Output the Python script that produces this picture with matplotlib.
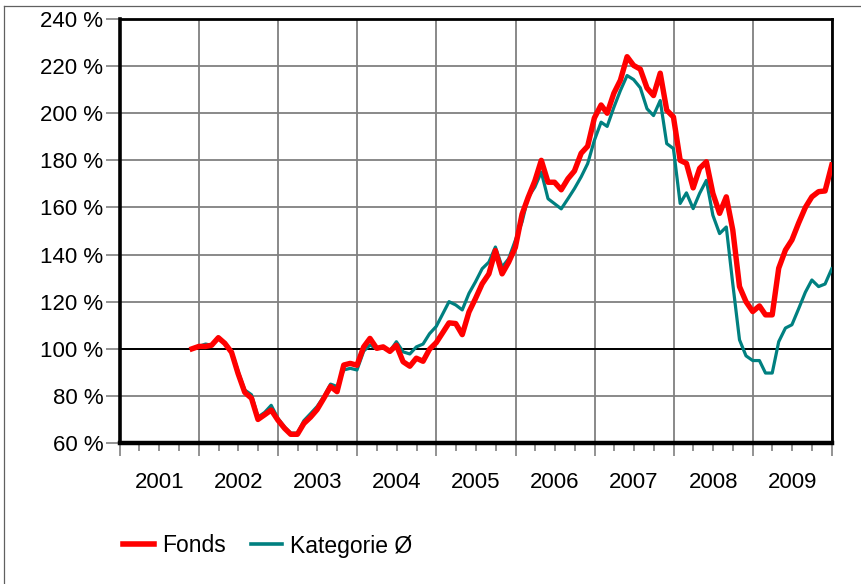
import matplotlib
matplotlib.use('Agg')
import matplotlib.pyplot as plt
import matplotlib.dates as mdates
import matplotlib.transforms as mtransforms
from matplotlib.lines import Line2D
import pandas as pd

plt.rcParams['font.family'] = ['Liberation Sans', 'DejaVu Sans']

# ---- data (monthly values, % of start) ----
start_month = '2001-11-30'

fonds = [
    100, 101, 101, 101.5, 104.7, 102.3, 98.5, 89.5, 81.5, 79,
    70, 72, 74, 69.7, 66.2, 63.7, 63.7, 68.3, 71, 74.2,
    79, 84, 81.8, 93.1, 93.8, 93, 100.8, 104.4, 100.2, 100.8,
    98.9, 101.5, 94.5, 92.6, 96, 94.7, 99.8, 102.6, 107, 111,
    110.7, 106, 115.6, 121.3, 127.6, 131.8, 141.7, 131.8, 136.7, 143,
    157.1, 164.2, 171.2, 180, 170.7, 170.7, 167.5, 172.2, 175.5, 183,
    186, 198, 203.5, 200, 208.5, 214, 224, 220.3, 218.7, 210.7,
    207.5, 217, 201.3, 198.4, 180, 178.7, 168.3, 176.6, 179.4, 166,
    157.5, 164.5, 150.4, 126.4, 120, 115.8, 118.2, 114.4, 114.4, 134.2,
    141.9, 146.2, 153.4, 160, 164.5, 166.7, 167, 178,
]

kategorie = [
    100, 101, 102, 101.5, 105, 102.5, 99, 90.5, 82.5, 80.5,
    71, 73, 76, 70.5, 66.8, 64.2, 64.2, 69.5, 72.5, 75.5,
    79.7, 85, 84, 91, 91.7, 91, 99, 101.6, 100, 100.5,
    99, 103, 98.7, 97.8, 100.8, 102, 106.4, 109.5, 115, 120,
    118.6, 116.5, 123.5, 128.4, 134, 136.8, 143.2, 134.7, 138.2, 146,
    153.8, 164.3, 168.6, 175, 163.7, 161.6, 159.4, 163.7, 168, 173,
    178.6, 188.5, 196.2, 194.4, 202.5, 209.6, 216, 214.3, 210.8, 201.9,
    199, 205.4, 187.1, 185, 161.7, 166.2, 159.5, 166, 171.5, 156.7,
    148.9, 151.7, 127.5, 103.8, 97, 95, 95, 89.7, 89.7, 103,
    108.8, 110.2, 117, 124, 129.2, 126.4, 127.5, 134,
]

years = [2001, 2002, 2003, 2004, 2005, 2006, 2007, 2008, 2009]
y_ticks = [60, 80, 100, 120, 140, 160, 180, 200, 220, 240]
series_names = ['Fonds', 'Kategorie Ø']
colors = ['#ff0000', '#008080']

dates = pd.date_range(start_month, periods=len(fonds), freq='ME')

W, H = 861, 584
fig = plt.figure(figsize=(W / 100, H / 100), dpi=100)
ax = fig.add_axes([120 / W, 1 - 443 / H, (832 - 120) / W, (443 - 19) / H])

ax.plot(dates, kategorie, color=colors[1], lw=2.3, solid_joinstyle='round', zorder=3)
ax.plot(dates, fonds, color=colors[0], lw=3.9, solid_joinstyle='round', zorder=4)

ax.set_xlim(pd.Timestamp(f'{years[0]}-01-01'), pd.Timestamp(f'{years[-1] + 1}-01-01'))
ax.set_ylim(y_ticks[0], y_ticks[-1])
ax.set_yticks(y_ticks)
ax.set_yticklabels([f'{v} %' for v in y_ticks])

ax.xaxis.set_major_locator(mdates.YearLocator())
ax.xaxis.set_minor_locator(mdates.MonthLocator(bymonth=[4, 7, 10]))
ax.xaxis.set_major_formatter(plt.NullFormatter())
ax.xaxis.set_minor_formatter(plt.NullFormatter())

ax.grid(True, which='major', axis='both', color='#808080', lw=1.3, zorder=1)
ax.axhline(100, color='black', lw=1.4, zorder=2)
ax.set_axisbelow(True)

ax.tick_params(axis='y', which='major', length=10, width=1.2, color='#808080',
               labelsize=16, pad=2, direction='out')
ax.tick_params(axis='x', which='major', length=9, width=1.2, color='#808080', direction='out')
ax.tick_params(axis='x', which='minor', length=6, width=1.2, color='#808080', direction='out')

for side, lw in (('left', 2.6), ('bottom', 3.2), ('top', 2.0), ('right', 2.0)):
    ax.spines[side].set_color('black')
    ax.spines[side].set_linewidth(lw)

trans = mtransforms.blended_transform_factory(ax.transData, ax.transAxes)
for yr in years:
    ax.text(pd.Timestamp(f'{yr}-07-02'), -0.092, str(yr), transform=trans,
            ha='center', va='center', fontsize=16, color='black')

handles = [Line2D([], [], color=colors[0], lw=4.0),
           Line2D([], [], color=colors[1], lw=2.6)]
fig.legend(handles, series_names, loc='center left',
           bbox_to_anchor=(123 / W, 1 - 546 / H), frameon=False, ncol=2,
           fontsize=16.5, handlelength=1.35, handletextpad=0.35,
           columnspacing=1.1, borderpad=0, borderaxespad=0)

# outer frame of the chart area (top and left edges visible)
fig.add_artist(Line2D([4 / W, 1], [1 - 6 / H, 1 - 6 / H], color='#606060', lw=0.9,
                      transform=fig.transFigure))
fig.add_artist(Line2D([4 / W, 4 / W], [0, 1 - 6 / H], color='#606060', lw=0.9,
                      transform=fig.transFigure))

fig.savefig('out.png', dpi=100, facecolor='white')
